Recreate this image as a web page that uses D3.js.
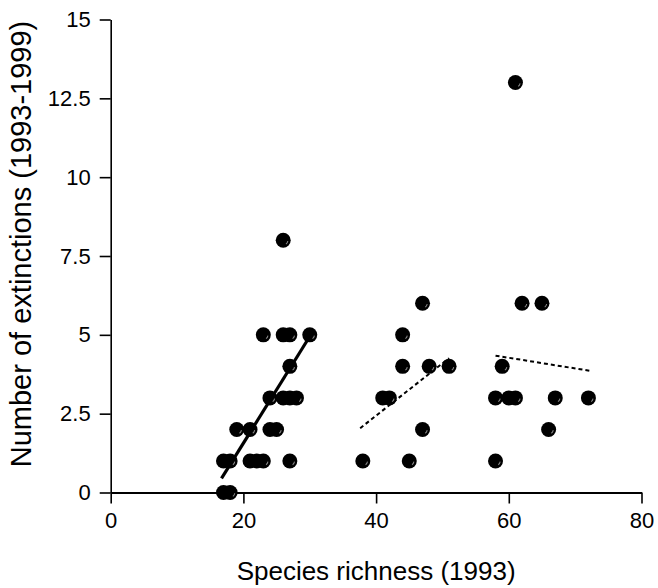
<!DOCTYPE html>
<html>
<head>
<meta charset="utf-8">
<script src="https://cdn.jsdelivr.net/npm/d3@7"></script>
<style>
    body { margin: 0; background: #fff; }
    svg { display: block; font-family: "Liberation Sans", Arial, sans-serif; }
</style>
</head>
<body>
<div id="chart"></div>
<script>
// species richness (1993) and number of extinctions (1993-1999), three groups
const smallX = [26, 23, 26, 27, 30, 27, 24, 26, 27, 28, 19, 21, 24, 25, 17, 18, 21, 22, 23, 27, 17, 18];
const smallY = [8, 5, 5, 5, 5, 4, 3, 3, 3, 3, 2, 2, 2, 2, 1, 1, 1, 1, 1, 1, 0, 0];
const midX = [47, 44, 44, 48, 51, 41, 42, 47, 38, 45];
const midY = [6, 5, 4, 4, 4, 3, 3, 2, 1, 1];
const bigX = [61, 62, 65, 59, 58, 60, 61, 67, 72, 66, 58];
const bigY = [13, 6, 6, 4, 3, 3, 3, 3, 3, 2, 1];

// fitted lines: [x, y] end points
const solidFit = [[16.7, 0.45], [30.3, 5.05]];
const midFit = [[37.6, 2.04], [51, 4.26]];
const bigFit = [[58, 4.34], [72.2, 3.86]];

const xTicks = [0, 20, 40, 60, 80];
const yTicks = [0, 2.5, 5, 7.5, 10, 12.5, 15];

const width = 658;
const height = 588;
const margin = { top: 19.5, right: 16.5, bottom: 95.5, left: 110.7 };

const svg = d3.select('#chart')
    .append('svg')
    .attr('width', width)
    .attr('height', height);

const xScale = d3.scaleLinear().domain([0, 80]).range([margin.left, width - margin.right]);
const yScale = d3.scaleLinear().domain([0, 15]).range([height - margin.bottom, margin.top]);

// axes
const xAxis = svg.append('g')
    .attr('transform', `translate(0, ${yScale(0)})`)
    .call(d3.axisBottom(xScale).tickValues(xTicks).tickSize(11).tickSizeOuter(0).tickPadding(9));

const yAxis = svg.append('g')
    .attr('transform', `translate(${xScale(0)}, 0)`)
    .call(d3.axisLeft(yScale).tickValues(yTicks).tickSize(11).tickSizeOuter(0).tickPadding(9)
        .tickFormat((d) => String(d)));

xAxis.select('.domain').attr('stroke-width', 2);
xAxis.selectAll('.tick line').attr('stroke-width', 1.6);
yAxis.select('.domain').attr('stroke-width', 1.6);
yAxis.selectAll('.tick line').attr('stroke-width', 1.6);
svg.selectAll('.tick text')
    .attr('font-family', '"Liberation Sans", Arial, sans-serif')
    .attr('font-size', 22)
    .attr('fill', '#000');

// axis titles
svg.append('text')
    .attr('x', (xScale(0) + xScale(80)) / 2)
    .attr('y', 580)
    .attr('text-anchor', 'middle')
    .attr('font-size', 26)
    .text('Species richness (1993)');

svg.append('text')
    .attr('transform', 'translate(31, 244) rotate(-90)')
    .attr('text-anchor', 'middle')
    .attr('font-size', 29)
    .text('Number of extinctions (1993-1999)');

// fitted lines
const line = d3.line().x((d) => xScale(d[0])).y((d) => yScale(d[1]));

svg.append('path')
    .attr('d', line(solidFit))
    .attr('fill', 'none')
    .attr('stroke', '#000')
    .attr('stroke-width', 3.2);

[midFit, bigFit].forEach((fit) => {
    svg.append('path')
        .attr('d', line(fit))
        .attr('fill', 'none')
        .attr('stroke', '#000')
        .attr('stroke-width', 2)
        .attr('stroke-dasharray', '4,3');
});

// points
const points = [
    ...smallX.map((x, i) => [x, smallY[i]]),
    ...midX.map((x, i) => [x, midY[i]]),
    ...bigX.map((x, i) => [x, bigY[i]]),
];

const dots = svg.append('g').attr('class', 'dots');
const shine = d3.arc().innerRadius(4.2).outerRadius(5.2).startAngle(Math.PI * 0.55).endAngle(Math.PI * 0.8);

const dot = dots.selectAll('g')
    .data(points)
    .join('g')
    .attr('transform', (d) => `translate(${xScale(d[0])}, ${yScale(d[1])})`);

dot.append('circle')
    .attr('r', 7.5)
    .attr('fill', '#000');

dot.append('path')
    .attr('d', shine())
    .attr('fill', '#888');
</script>
</body>
</html>
